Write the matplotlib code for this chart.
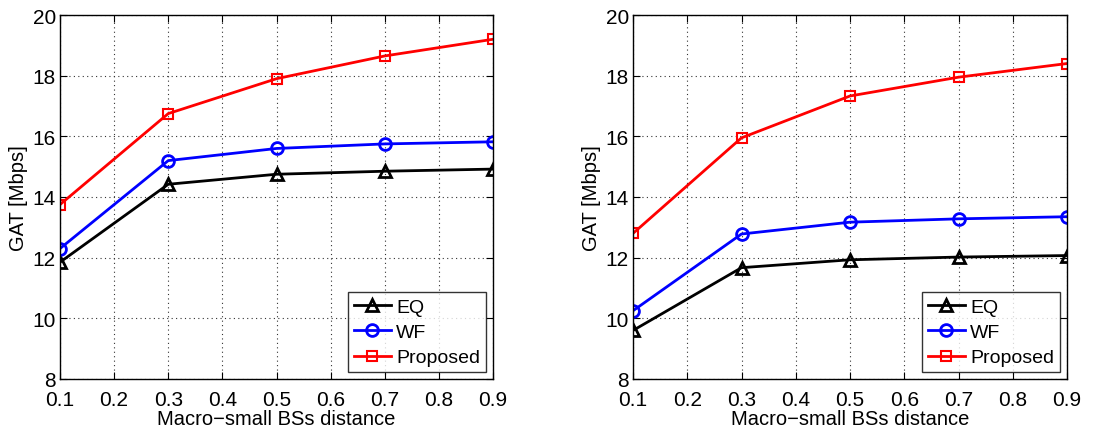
import numpy as np
import matplotlib.pyplot as plt

plt.rcParams['font.family'] = ['Liberation Sans', 'DejaVu Sans']
plt.rcParams['font.size'] = 13

distance = [0.1, 0.3, 0.5, 0.7, 0.9]

# left panel
eq_left = [11.85, 14.42, 14.75, 14.85, 14.92]
wf_left = [12.3, 15.2, 15.6, 15.75, 15.82]
prop_left = [13.75, 16.75, 17.9, 18.65, 19.2]

# right panel
eq_right = [9.6, 11.67, 11.93, 12.02, 12.07]
wf_right = [10.25, 12.78, 13.17, 13.28, 13.35]
prop_right = [12.8, 15.95, 17.33, 17.95, 18.4]

xticks = [0.1, 0.2, 0.3, 0.4, 0.5, 0.6, 0.7, 0.8, 0.9]
yticks = [8, 10, 12, 14, 16, 18, 20]

fig = plt.figure(figsize=(11.2, 4.31), dpi=100)
ax1 = fig.add_axes([60/1120, 1 - 380/431, 433/1120, 364/431])
ax2 = fig.add_axes([633/1120, 1 - 380/431, 434/1120, 364/431])

def panel(ax, eq, wf, prop):
    ax.plot(distance, eq, color='black', lw=2, marker='^', ms=9, mfc='none', mew=2, label='EQ')
    ax.plot(distance, wf, color='blue', lw=2, marker='o', ms=8.5, mfc='none', mew=2, label='WF')
    ax.plot(distance, prop, color='red', lw=2, marker='s', ms=7, mfc='none', mew=1.5, label='Proposed')
    ax.set_xlim(0.1, 0.9)
    ax.set_ylim(8, 20)
    ax.set_xticks(xticks)
    ax.set_xticklabels([str(t) for t in xticks], fontsize=15)
    ax.set_yticks(yticks)
    ax.set_yticklabels([str(t) for t in yticks], fontsize=15)
    ax.grid(True, linestyle=(0, (1, 3)), color='#333333', lw=0.8)
    ax.tick_params(direction='in', top=True, right=True, length=5)
    ax.tick_params(axis='x', pad=8)
    ax.tick_params(axis='y', pad=3)
    ax.set_xlabel('Macro\u2212small BSs distance', fontsize=14.5, labelpad=0)
    ax.set_ylabel('GAT [Mbps]', fontsize=14.5, labelpad=3)
    leg = ax.legend(loc='lower right', fancybox=False, edgecolor='black', fontsize=14,
                    borderaxespad=0.35, handlelength=1.9, handletextpad=0.3,
                    labelspacing=0.4, borderpad=0.3)
    leg.get_frame().set_linewidth(1.0)
    for s in ax.spines.values():
        s.set_linewidth(1.0)

panel(ax1, eq_left, wf_left, prop_left)
panel(ax2, eq_right, wf_right, prop_right)

fig.savefig('out.png', dpi=100)
